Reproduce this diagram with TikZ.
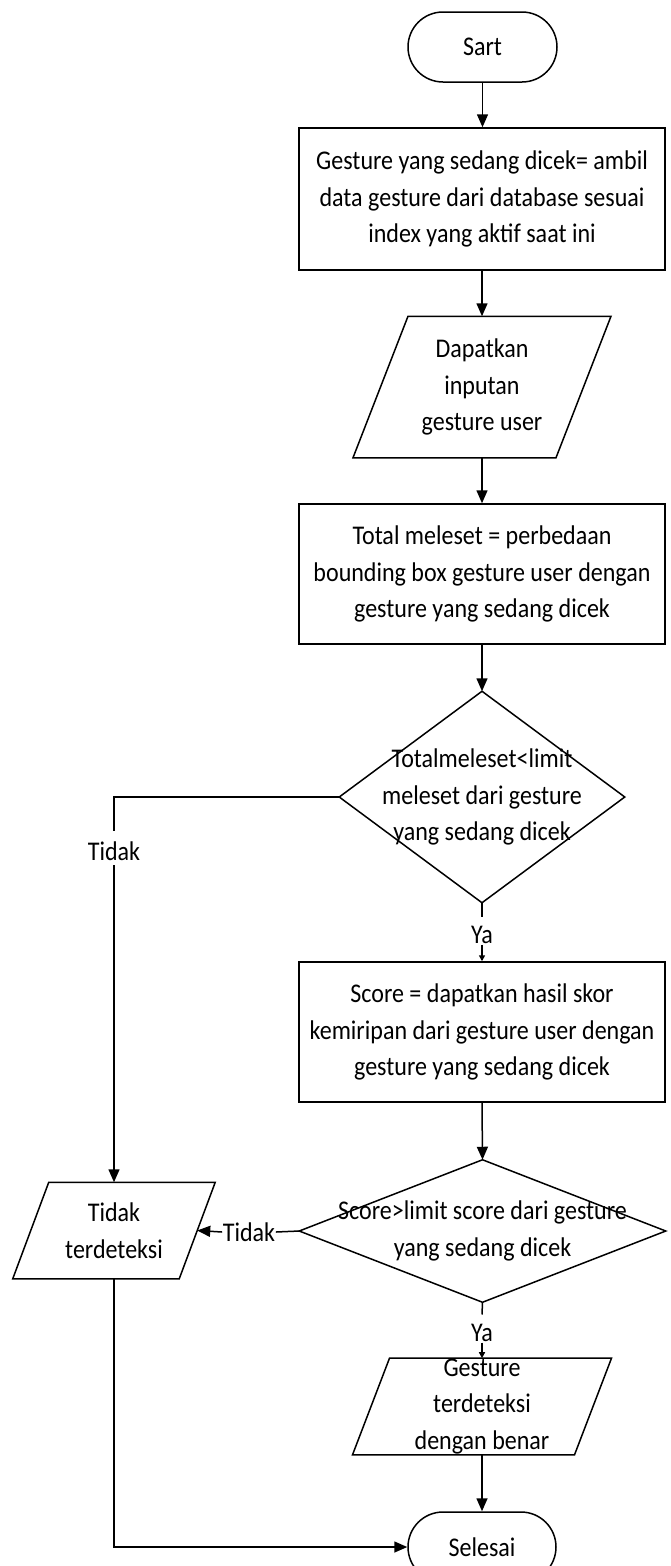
\documentclass[tikz,border=0pt]{standalone}
\usepackage{fontspec}
\setmainfont{Carlito}[FakeStretch=0.89]
\usetikzlibrary{arrows.meta}
\newcommand\paradraw[2]{\draw ([xshift=-#2pt]#1.south west) -- ([xshift=-#2pt]#1.south east) -- ([xshift=#2pt]#1.north east) -- ([xshift=#2pt]#1.north west) -- cycle;}
\newcommand\diadraw[1]{\draw (#1.north) -- (#1.east) -- (#1.south) -- (#1.west) -- cycle;}
\begin{document}
\begin{tikzpicture}[x=1pt,y=-1pt,line width=1.5pt,
  every node/.style={font=\fontsize{27}{36.5}\selectfont, align=center, inner sep=0pt},
  term/.style={draw, rounded corners=35pt, minimum width=149pt, minimum height=70pt},
  proc/.style={draw, minimum width=366pt, minimum height=140pt},
  arr/.style={-{Triangle[length=13pt,width=11pt]}},
  arrs/.style={-{Triangle[length=6pt,width=6pt]}}]
\useasboundingbox (0,0) rectangle (670,1566);

\node[term] (s) at (482.5,47) {Sart};
\node[proc, minimum height=142pt] (b1) at (482,199) {Gesture yang sedang dicek= ambil\\data gesture dari database sesuai\\index yang aktif saat ini};
\node[minimum width=201.5pt, minimum height=140pt] (p1) at (482,387) {Dapatkan\\inputan\\gesture user};
\paradraw{p1}{27.5}
\node[proc] (b2) at (482,574) {Total meleset = perbedaan\\bounding box gesture user dengan\\gesture yang sedang dicek};
\node[minimum width=284pt, minimum height=210pt] (d1) at (482,797) {Totalmeleset<limit\\meleset dari gesture\\yang sedang dicek};
\diadraw{d1}
\node (ya1) at (482,935) {Ya};
\node[proc] (b3) at (482,1032) {Score = dapatkan hasil skor\\kemiripan dari gesture user dengan\\gesture yang sedang dicek};
\node[minimum width=365pt, minimum height=141pt] (d2) at (482.5,1231) {Score>limit score dari gesture\\yang sedang dicek};
\diadraw{d2}
\node (ya2) at (482,1333) {Ya};
\node[minimum width=220.5pt, minimum height=93pt] (p3) at (482,1406.5) {Gesture\\terdeteksi\\dengan benar};
\paradraw{p3}{18.5}
\node[term, minimum width=148pt] (sel) at (482,1547) {Selesai};
\node[minimum width=165pt, minimum height=95pt] (p2) at (114,1230.5) {Tidak\\terdeteksi};
\paradraw{p2}{18}
\node (tid1) at (114,851) {Tidak};
\node (tid2) at (249,1232) {Tidak};

\draw[arr] (s.south) -- (s.south |- b1.north);
\draw[arr] (b1.south) -- (p1.north);
\draw[arr] (p1.south) -- (b2.north);
\draw[arr] (b2.south) -- (d1.north);
\draw (d1.south) -- ([yshift=9pt]ya1.north);
\draw[arrs] (ya1.south) -- (b3.north);
\draw[arr] (b3.south) -- (d2.north);
\draw (d2.south) -- ([yshift=9pt]ya2.north);
\draw[arrs] (ya2.south) -- (p3.north);
\draw[arr] (p3.south) -- (sel.north);
\draw (d1.west) -| ([yshift=10pt]tid1.north);
\draw[arr] ([yshift=-4pt]tid1.south) -- (p2.north);
\draw (d2.west) -- (tid2.east);
\draw[arr] (tid2.west) -- (p2.east);
\draw[arr] (p2.south) |- (sel.west);
\end{tikzpicture}
\end{document}
